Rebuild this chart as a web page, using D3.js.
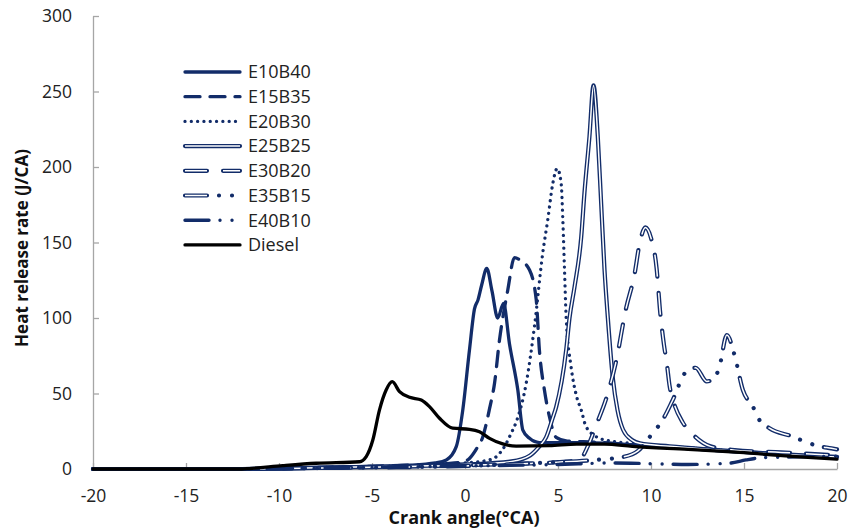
<!DOCTYPE html>
<html>
<head>
<meta charset="utf-8">
<script src="https://cdn.jsdelivr.net/npm/d3@7"></script>
<style>
  body { margin: 0; background: #fff; }
  text { font-family: "Open Sans", sans-serif; }
</style>
</head>
<body>
<div id="container"></div>
<script>
// axis ticks
const xTicks = [-20, -15, -10, -5, 0, 5, 10, 15, 20];
const yTicks = [0, 50, 100, 150, 200, 250, 300];

const seriesNames = ["E10B40", "E15B35", "E20B30", "E25B25", "E30B20", "E35B15", "E40B10", "Diesel"];

// [crank angle, heat release rate]
const e10b40 = [[-20,0],[-12,0],[-10,0.5],[-6,1.5],[-3,2.5],[-1.6,4],[-1,6],[-0.47,14.8],[-0.12,39],[0.24,78.8],[0.51,106],[0.7,112],[0.9,122],[1.17,132.9],[1.45,118],[1.76,100],[2.07,109.7],[2.39,83],[2.84,52.3],[3.11,25.8],[3.47,20.3],[4,17.5],[6,17.5],[8,16.8],[10,15],[12,13.5],[15,11],[18,9],[20,8]];
const e15b35 = [[-20,0],[-12,0],[-10,0.5],[-6,1.5],[-3,2.5],[-1,3.5],[0,5],[0.24,7],[0.6,13],[0.96,21.4],[1.32,40],[1.59,57],[1.85,85],[2.3,118.5],[2.66,140],[3.0,138],[3.47,131.8],[3.83,112],[4.0,78.8],[4.27,52.3],[4.54,34.6],[4.9,21],[5.5,18.5],[7,17.8],[9,16],[12,14],[15,11.5],[18,9],[20,8]];
const e20b30 = [[-20,0],[-12,0],[-10,0.5],[-6,1.5],[-2,2.5],[0,4],[1.3,6],[1.68,8.1],[2.12,14.8],[2.48,23.6],[2.75,31],[3.29,56.7],[3.74,95],[4.18,143],[4.45,165],[4.72,189],[4.96,199],[5.17,189],[5.26,165],[5.35,132],[5.44,100],[5.7,68],[6.0,48],[6.25,39],[6.51,28],[7.23,20.3],[7.6,19],[9,17],[12,14],[15,11.5],[18,9],[20,8]];
const e25b25 = [[-20,0],[-12,0],[-10,0.3],[-5,1.5],[0,3],[2.5,5],[3.5,9],[4.0,15],[4.36,21],[4.72,34],[4.9,41],[5.44,79],[5.62,100],[5.89,120.7],[6.25,153.8],[6.42,182.6],[6.69,220],[6.91,254],[7.14,220],[7.32,176],[7.5,132],[7.68,100],[7.95,60],[8.2,39],[8.5,26],[9.0,19],[9.4,17],[11,15],[13,13],[16,10.5],[20,8]];
const e30b20 = [[-20,0],[-12,0],[-10,0.3],[-5,1.2],[0,2.5],[3,3.5],[5,4.5],[6.15,6],[6.6,15],[7.05,29],[7.6,47],[8.1,70],[8.67,107],[9.1,128],[9.4,150],[9.7,160],[10.0,153],[10.3,133],[10.5,103],[10.7,82],[10.85,70],[11.0,55],[11.2,45],[11.7,31],[12.2,23.5],[13.2,15],[14.5,12.5],[17,11],[20,9]];
const e35b15 = [[-20,0],[-12,0],[-10,0.3],[-5,1],[0,2],[4,4],[7,6],[8.5,8],[9.3,12],[10.1,24],[10.55,31],[11.17,45.7],[11.86,64],[12.4,67],[13.0,58],[13.4,60],[13.68,67.7],[14.08,88.7],[14.49,75.5],[14.94,52.3],[15.48,41.3],[15.8,33],[16.37,27],[17.6,21.6],[18.3,18],[19.06,15],[19.7,13.7],[20,13]];
const e40b10 = [[-20,0],[-12,0],[-10,0.3],[-5,1],[0,2],[5,3],[8,4],[10,3.5],[12,3],[13.6,3.5],[14.3,4],[15.1,6],[16,7.5],[18,8],[20,8.5]];
const diesel = [[-20,0],[-12,0],[-11.6,0.3],[-9.8,2.2],[-8,3.8],[-5.67,4.8],[-5.31,8.2],[-4.96,19],[-4.6,39],[-4.24,52.3],[-3.91,57.8],[-3.52,51.2],[-2.98,47.5],[-2.35,45.7],[-1.91,41.3],[-1.37,33.6],[-0.66,27],[0.24,26.3],[0.78,24.7],[1.32,20.3],[2.03,16.6],[2.75,15.2],[4.54,15.5],[6,16.5],[7.5,16.5],[9,15],[12,13],[15,10.8],[18,8],[20,6.5]];

const seriesData = [e10b40, e15b35, e20b30, e25b25, e30b20, e35b15, e40b10, diesel];

const navy = "#122c69";

// line looks, in series order
const styles = [
  { color: navy, width: 3.3, dash: null },
  { color: navy, width: 3.3, dash: "15,10" },
  { color: navy, width: 3.3, dash: "0.01,6.3" },
  { color: navy, width: 4.2, dash: null, double: true },
  { color: navy, width: 4.2, dash: "22,16", double: true },
  { color: navy, width: 4.2, dash: "22,12,0.01,13,0.01,12", double: true },
  { color: navy, width: 3.4, dash: "24,11,0.01,12,0.01,11" },
  { color: "#000", width: 3.3, dash: null }
];

const width = 849, height = 531;
const margin = { top: 16, right: 12, bottom: 62, left: 93 };

let viz = d3.select("#container")
  .append("svg")
    .attr("width", width)
    .attr("height", height)
;

const x = d3.scaleLinear()
    .domain([-20, 20])
    .range([margin.left, width - margin.right]);

const y = d3.scaleLinear()
    .domain([0, 300])
    .range([height - margin.bottom, margin.top]);

// x axis, ticks pointing in, plain hyphen for negatives
const xAxis = viz.append("g")
    .attr("transform", `translate(0,${height - margin.bottom})`)
    .call(d3.axisBottom(x).tickValues(xTicks).tickFormat(d => String(d))
      .tickSizeInner(-6).tickSizeOuter(0).tickPadding(21));

// y axis
const yAxis = viz.append("g")
    .attr("transform", `translate(${margin.left},0)`)
    .call(d3.axisLeft(y).tickValues(yTicks).tickFormat(d => String(d))
      .tickSizeInner(-6).tickSizeOuter(0).tickPadding(21));

[xAxis, yAxis].forEach(a => {
  a.select(".domain").attr("stroke", "#a6a6a6").attr("stroke-width", 1.3);
  a.selectAll(".tick line").attr("stroke", "#a6a6a6").attr("stroke-width", 1.3);
  a.selectAll(".tick text")
      .attr("fill", "#222")
      .attr("font-size", 17.5)
      .attr("font-family", "Open Sans");
});

// axis titles
viz.append("text")
    .text("Crank angle(°CA)")
    .attr("x", 464)
    .attr("y", 524)
    .attr("text-anchor", "middle")
    .attr("font-size", 18)
    .attr("font-weight", "bold")
    .attr("fill", "#111")
;
viz.append("text")
    .text("Heat release rate (J/CA)")
    .attr("transform", "translate(28,248) rotate(-90)")
    .attr("text-anchor", "middle")
    .attr("font-size", 17)
    .attr("font-weight", "bold")
    .attr("fill", "#111")
;

const line = d3.line()
    .x(d => x(d[0]))
    .y(d => y(d[1]))
    .curve(d3.curveMonotoneX);

// one styled stroke, with a white core for the double lines
function drawStroke(g, d, st) {
  g.append("path")
      .attr("d", d)
      .attr("fill", "none")
      .attr("stroke", st.color)
      .attr("stroke-width", st.width)
      .attr("stroke-dasharray", st.dash)
      .attr("stroke-linecap", "round")
      .attr("stroke-linejoin", "round");
  if (st.double) {
    g.append("path")
        .attr("d", d)
        .attr("fill", "none")
        .attr("stroke", "#fff")
        .attr("stroke-width", 1.5)
        .attr("stroke-dasharray", st.dash)
        .attr("stroke-linecap", "butt")
        .attr("stroke-linejoin", "round");
  }
}

// curves
const plot = viz.append("g");
seriesData.forEach((s, i) => {
  drawStroke(plot.append("g"), line(s), styles[i]);
});

// legend
const legend = viz.append("g");
seriesNames.forEach((name, i) => {
  const ly = 72 + i * 24.7;
  drawStroke(legend.append("g"), `M185,${ly}L240,${ly}`, styles[i]);
  legend.append("text")
      .text(name)
      .attr("x", 248)
      .attr("y", ly)
      .attr("dy", "0.35em")
      .attr("font-size", 18)
      .attr("fill", "#222");
});
</script>
</body>
</html>
